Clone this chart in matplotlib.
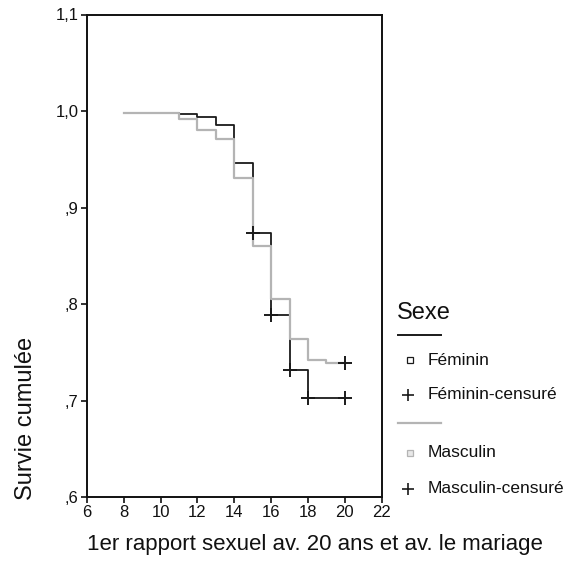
import matplotlib
matplotlib.use("Agg")
import matplotlib.pyplot as plt
from matplotlib.lines import Line2D

plt.rcParams['font.family'] = ['Liberation Sans', 'DejaVu Sans']

# Kaplan-Meier steps (age at event, cumulative survival)
ages = [8, 11, 12, 13, 14, 15, 16, 17, 18, 19, 20]
surv_feminin = [0.998, 0.9966, 0.994, 0.9855, 0.946, 0.874, 0.789, 0.732, 0.703, 0.703, 0.703]
surv_masculin = [0.998, 0.992, 0.980, 0.971, 0.931, 0.860, 0.805, 0.764, 0.742, 0.739, 0.739]

# censored observations
cens_fem_ages = [15, 16, 17, 18, 20]
cens_fem_surv = [0.874, 0.789, 0.732, 0.703, 0.703]
cens_masc_ages = [20]
cens_masc_surv = [0.739]

yticks = [0.6, 0.7, 0.8, 0.9, 1.0, 1.1]
ytick_labels = [',6', ',7', ',8', ',9', '1,0', '1,1']
xticks = [6, 8, 10, 12, 14, 16, 18, 20, 22]

col_fem = '#1a1a1a'
col_masc = '#b4b4b4'
txt = '#111111'

fig = plt.figure(figsize=(5.68, 5.80), dpi=100)
ax = fig.add_axes([0.153, 0.143, 0.519, 0.832])

ax.step(ages, surv_feminin, where='post', color=col_fem, lw=1.3, zorder=2)
ax.step(ages, surv_masculin, where='post', color=col_masc, lw=1.6, zorder=3)
ax.plot(cens_fem_ages, cens_fem_surv, '+', color=col_fem, ms=10, mew=1.4, zorder=4)
ax.plot(cens_masc_ages, cens_masc_surv, '+', color=col_fem, ms=10, mew=1.4, zorder=4)

ax.set_xlim(6, 22)
ax.set_ylim(0.6, 1.1)
ax.set_xticks(xticks)
ax.set_yticks(yticks)
ax.set_yticklabels(ytick_labels)
ax.tick_params(labelsize=12, length=4, width=1.2, color=txt, labelcolor=txt, pad=2)
for s in ax.spines.values():
    s.set_linewidth(1.4)
    s.set_color(txt)

fig.text(0.045, 0.279, 'Survie cumulée', rotation=90, fontsize=17, ha='center', va='center', color=txt)
fig.text(0.153, 0.062, '1er rapport sexuel av. 20 ans et av. le mariage', fontsize=16, ha='left', va='center', color=txt)

# legend drawn by hand, SPSS style
fig.text(0.698, 0.460, 'Sexe', fontsize=17, ha='left', va='center', color=txt)
fig.add_artist(Line2D([0.700, 0.776], [0.422, 0.422], color=col_fem, lw=1.4))
fig.add_artist(Line2D([0.722], [0.379], marker='s', ms=4, mfc='white', mec=col_fem, mew=0.9, ls='none'))
fig.text(0.753, 0.379, 'Féminin', fontsize=12.5, ha='left', va='center', color=txt)
fig.add_artist(Line2D([0.718], [0.319], marker='+', ms=8, color=col_fem, mew=1.2, ls='none'))
fig.text(0.753, 0.319, 'Féminin-censuré', fontsize=12.5, ha='left', va='center', color=txt)
fig.add_artist(Line2D([0.700, 0.776], [0.271, 0.271], color=col_masc, lw=1.6))
fig.add_artist(Line2D([0.722], [0.219], marker='s', ms=4, mfc='#e8e8e8', mec=col_masc, mew=0.9, ls='none'))
fig.text(0.753, 0.219, 'Masculin', fontsize=12.5, ha='left', va='center', color=txt)
fig.add_artist(Line2D([0.718], [0.157], marker='+', ms=8, color=col_fem, mew=1.2, ls='none'))
fig.text(0.753, 0.157, 'Masculin-censuré', fontsize=12.5, ha='left', va='center', color=txt)

fig.savefig('out.png', dpi=100)
